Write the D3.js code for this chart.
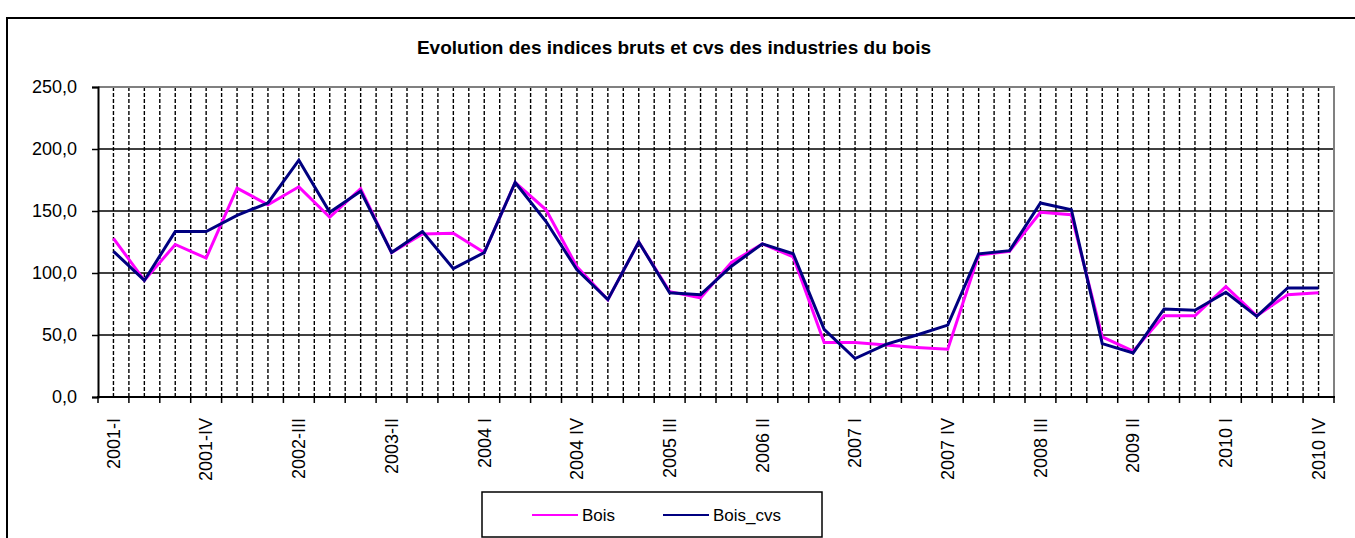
<!DOCTYPE html>
<html>
  <head>
    <title>Evolution des indices bruts et cvs des industries du bois</title>
    <style>
      body { margin: 0; background: #fff; }
      text { font-family: Arial, "Liberation Sans", sans-serif; fill: #000; }
    </style>
  </head>
  <body>
    <script src="https://cdn.jsdelivr.net/npm/d3@7"></script>
    <script>
      var w = 1355;
      var h = 538;

      // trimestres 2001-I .. 2010-IV
      var quarters = [
        "2001-I","2001-II","2001-III","2001-IV",
        "2002-I","2002-II","2002-III","2002-IV",
        "2003-I","2003-II","2003-III","2003-IV",
        "2004 I","2004 II","2004 III","2004 IV",
        "2005 I","2005 II","2005 III","2005 IV",
        "2006 I","2006 II","2006 III","2006 IV",
        "2007 I","2007 II","2007 III","2007 IV",
        "2008 I","2008 II","2008 III","2008 IV",
        "2009 I","2009 II","2009 III","2009 IV",
        "2010 I","2010 II","2010 III","2010 IV"
      ];
      var bois = [
        128, 94, 123, 112, 168.5, 155, 169.5, 145, 168, 116.5, 131.5, 132,
        116.5, 173, 151, 105, 78.5, 125, 85, 80, 108.5, 123.5, 113, 44,
        44, 42, 40, 38.5, 114.5, 117.5, 149, 147, 48.5, 37, 65.5, 65.5,
        89, 65.5, 82.5, 84
      ];
      var boisCvs = [
        117.5, 94, 133.5, 133.5, 146.5, 156.5, 191, 149, 166, 116.5, 133.5, 103.5,
        116.5, 173, 141.5, 102.5, 78.5, 125, 84, 82.5, 105.5, 123.5, 115.5, 54.5,
        31, 42.5, 50, 58, 115.5, 118, 156.5, 151, 43, 35.5, 71, 70,
        84.5, 65, 88, 88
      ];
      var yTicks = [0, 50, 100, 150, 200, 250];
      var labelEvery = 3;
      var seriesNames = ["Bois", "Bois_cvs"];
      var seriesColors = ["#ff00ff", "#000080"];

      var m = {left: 98, top: 87, right: 1334, bottom: 397};

      var svg = d3.select("body").append("svg").attr("width", w).attr("height", h);

      // cadre du graphique
      svg.append("path").attr("d", "M7," + h + "V18H" + w)
        .attr("fill", "none").attr("stroke", "#000").attr("stroke-width", 2);

      svg.append("text").attr("x", 674).attr("y", 54)
        .attr("text-anchor", "middle").attr("font-weight", "bold").attr("font-size", 19)
        .text("Evolution des indices bruts et cvs des industries du bois");

      var x = d3.scaleBand().domain(quarters).range([m.left, m.right]);
      var y = d3.scaleLinear().domain([0, 250]).range([m.bottom, m.top]);
      var cx = function(d) { return x(d) + x.bandwidth() / 2; };

      // grille verticale pointillee : bords et centres des categories
      var gridX = [];
      quarters.forEach(function(q, i) {
        gridX.push(cx(q));
        if (i > 0) gridX.push(x(q));
      });
      svg.append("g").selectAll("line").data(gridX).enter().append("line")
        .attr("x1", function(d) { return d; }).attr("x2", function(d) { return d; })
        .attr("y1", m.top).attr("y2", m.bottom)
        .attr("stroke", "#000").attr("stroke-width", 1.4).attr("stroke-dasharray", "4,2");

      // grille horizontale
      svg.append("g").selectAll("line").data(yTicks.slice(1, -1)).enter().append("line")
        .attr("x1", m.left).attr("x2", m.right)
        .attr("y1", function(d) { return y(d); }).attr("y2", function(d) { return y(d); })
        .attr("stroke", "#000").attr("stroke-width", 1.5);

      // bord gris haut et droit
      svg.append("path").attr("d", "M" + m.left + "," + m.top + "H" + m.right + "V" + m.bottom)
        .attr("fill", "none").attr("stroke", "#808080").attr("stroke-width", 2);

      // axe y
      var yAxis = svg.append("g").attr("transform", "translate(" + m.left + ",0)")
        .call(d3.axisLeft(y).tickValues(yTicks).tickSize(6).tickPadding(15)
          .tickFormat(function(d) { return d3.format(".1f")(d).replace(".", ","); }));
      yAxis.select(".domain").attr("stroke", "#000").attr("stroke-width", 2);
      yAxis.selectAll(".tick line").attr("stroke", "#000").attr("stroke-width", 1.5);
      yAxis.selectAll("text").attr("font-size", 18).attr("font-family", "Arial, 'Liberation Sans', sans-serif");

      // axe x
      var xAxis = svg.append("g").attr("transform", "translate(0," + m.bottom + ")");
      xAxis.append("line").attr("x1", m.left - 1).attr("x2", m.right + 1)
        .attr("stroke", "#000").attr("stroke-width", 2);
      xAxis.selectAll(".tk").data(quarters.concat(["end"])).enter().append("line")
        .attr("x1", function(d, i) { return m.left + i * x.step(); })
        .attr("x2", function(d, i) { return m.left + i * x.step(); })
        .attr("y1", 0).attr("y2", 6).attr("stroke", "#000").attr("stroke-width", 1.5);
      xAxis.selectAll(".lbl").data(quarters.filter(function(q, i) { return i % labelEvery === 0; }))
        .enter().append("text")
        .attr("transform", function(d) { return "translate(" + cx(d) + ",21) rotate(-90)"; })
        .attr("text-anchor", "end").attr("dy", "0.35em").attr("font-size", 18)
        .text(function(d) { return d; });

      // courbes
      var line = d3.line().x(function(d, i) { return cx(quarters[i]); }).y(function(d) { return y(d); });
      [bois, boisCvs].forEach(function(s, k) {
        svg.append("path").datum(s).attr("d", line)
          .attr("fill", "none").attr("stroke", seriesColors[k]).attr("stroke-width", 3)
          .attr("stroke-linejoin", "miter");
      });

      // legende
      var lg = svg.append("g").attr("transform", "translate(482,492)");
      lg.append("rect").attr("width", 340).attr("height", 45)
        .attr("fill", "#fff").attr("stroke", "#000").attr("stroke-width", 1.5);
      var legX = [50, 181];
      seriesNames.forEach(function(n, k) {
        lg.append("line").attr("x1", legX[k]).attr("x2", legX[k] + 46).attr("y1", 23).attr("y2", 23)
          .attr("stroke", seriesColors[k]).attr("stroke-width", 2);
        lg.append("text").attr("x", legX[k] + 50).attr("y", 23).attr("dy", "0.35em")
          .attr("font-size", 17).text(n);
      });
    </script>
  </body>
</html>
